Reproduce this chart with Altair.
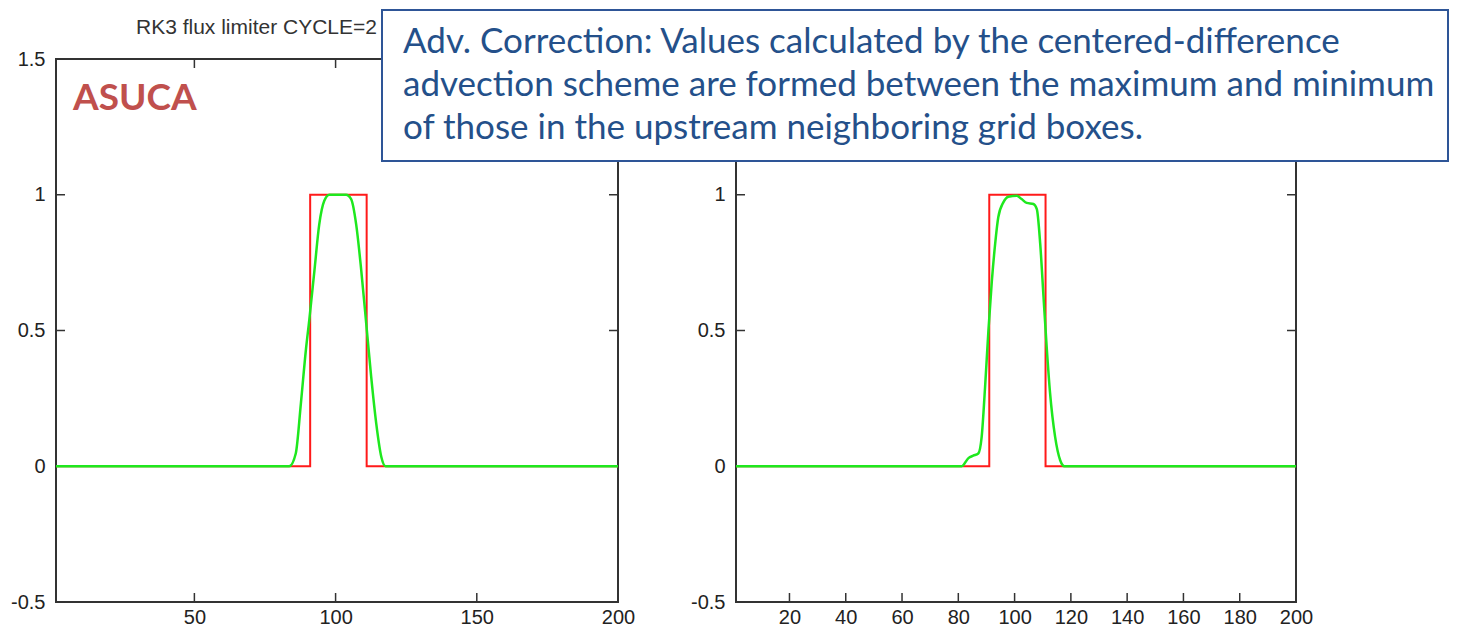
import altair as alt
import pandas as pd

# ---------------- data ----------------
red_x = [1, 91, 91, 111, 111, 200]
red_y = [0, 0, 1, 1, 0, 0]

left_green_x = [1, 83.6, 85.9, 87.7, 89.5, 90.7, 92.5, 94.2, 96.0, 97.8, 100.5, 103.7,
                105.5, 107.3, 109.1, 110.9, 112.6, 114.4, 116.2, 117.7, 200]
left_green_y = [0, 0, 0.047, 0.23, 0.43, 0.54, 0.72, 0.89, 0.978, 1.0, 1.0, 1.0,
                0.984, 0.89, 0.72, 0.52, 0.33, 0.157, 0.034, 0, 0]

right_green_x = [1, 81.2, 83.6, 85.3, 87.1, 88.3, 89.5, 90.7, 91.9, 93.1, 94.2, 96.0,
                 97.8, 100.8, 102.5, 104.3, 106.7, 107.9, 109.1, 110.3, 111.4, 112.6,
                 114.4, 116.2, 117.7, 200]
right_green_y = [0, 0, 0.03, 0.039, 0.047, 0.108, 0.29, 0.5, 0.68, 0.82, 0.917, 0.972,
                 0.993, 0.996, 0.984, 0.97, 0.966, 0.947, 0.82, 0.62, 0.44, 0.27,
                 0.108, 0.022, 0, 0]

left_xticks = [50, 100, 150, 200]
right_xticks = [20, 40, 60, 80, 100, 120, 140, 160, 180, 200]
yticks = [-0.5, 0, 0.5, 1, 1.5]
left_ylabels = [-0.5, 0, 0.5, 1, 1.5]
right_ylabels = [-0.5, 0, 0.5, 1]   # 1.5 is hidden under the text box

title_text = "RK3 flux limiter CYCLE=2"
label_text = "ASUCA"
box_lines = [
    "Adv. Correction: Values calculated by the centered-difference",
    "advection scheme are formed between the maximum and minimum",
    "of those in the upstream neighboring grid boxes.",
]

# ---------------- styling ----------------
FRAME = "#333333"
TICK_FONT = "Liberation Sans"
TICK_LEN = 9
H = 543

red_df = pd.DataFrame({"x": red_x, "y": red_y, "i": range(len(red_x))})
ytick_df = pd.DataFrame({"v": yticks})


def panel(gx, gy, xticks, ylabels, W):
    xs = alt.Scale(domain=[1, 200], nice=False, zero=False)
    ys = alt.Scale(domain=[-0.5, 1.5], nice=False, zero=False)
    xaxis = alt.Axis(values=xticks, title=None, grid=False, domain=False, ticks=False,
                     tickSize=0, labelPadding=5, labelFont=TICK_FONT, labelFontSize=20,
                     labelColor="#222222", labelFlush=False,
                     labelExpr="toString(datum.value)")
    yaxis = alt.Axis(values=ylabels, title=None, grid=False, domain=False, ticks=False,
                     tickSize=0, labelPadding=11, labelFont=TICK_FONT, labelFontSize=20,
                     labelColor="#222222", labelFlush=False,
                     labelExpr="toString(datum.value)")
    gdf = pd.DataFrame({"x": gx, "y": gy, "i": range(len(gx))})
    xtick_df = pd.DataFrame({"v": xticks})

    red = alt.Chart(red_df).mark_line(color="#ff1a1a", strokeWidth=2).encode(
        x=alt.X("x:Q", scale=xs, axis=xaxis),
        y=alt.Y("y:Q", scale=ys, axis=yaxis),
        order="i:Q",
    )
    green = alt.Chart(gdf).mark_line(color="#1ee81e", strokeWidth=2.5,
                                     interpolate="monotone").encode(
        x=alt.X("x:Q", scale=xs), y=alt.Y("y:Q", scale=ys), order="i:Q"
    )
    tb = alt.Chart(xtick_df).mark_rule(color=FRAME, strokeWidth=1.5).encode(
        x=alt.X("v:Q", scale=xs), y=alt.value(H), y2=alt.value(H - TICK_LEN))
    tt = alt.Chart(xtick_df).mark_rule(color=FRAME, strokeWidth=1.5).encode(
        x=alt.X("v:Q", scale=xs), y=alt.value(0), y2=alt.value(TICK_LEN))
    tl = alt.Chart(ytick_df).mark_rule(color=FRAME, strokeWidth=1.5).encode(
        y=alt.Y("v:Q", scale=ys), x=alt.value(0), x2=alt.value(TICK_LEN))
    tr = alt.Chart(ytick_df).mark_rule(color=FRAME, strokeWidth=1.5).encode(
        y=alt.Y("v:Q", scale=ys), x=alt.value(W), x2=alt.value(W - TICK_LEN))
    return [tb, tt, tl, tr, red, green]


one = pd.DataFrame({"a": [0]})

left_layers = panel(left_green_x, left_green_y, left_xticks, left_ylabels, 562)
title = alt.Chart(one).mark_text(text=title_text, font=TICK_FONT, fontSize=21,
                                 color="#333333", align="left",
                                 baseline="alphabetic").encode(
    x=alt.value(80), y=alt.value(-25))
asuca = alt.Chart(one).mark_text(text=label_text, font="Lato", fontSize=37,
                                 fontWeight="bold", color="#C0504D", align="left",
                                 baseline="alphabetic").encode(
    x=alt.value(17), y=alt.value(51))
left = alt.layer(*left_layers, title, asuca).properties(width=562, height=H)

right_layers = panel(right_green_x, right_green_y, right_xticks, right_ylabels, 560)
box = alt.Chart(one).mark_rect(fill="white", stroke="#2E5597", strokeWidth=2).encode(
    x=alt.value(-354), x2=alt.value(712), y=alt.value(-49), y2=alt.value(102))
texts = []
for k, t in enumerate(box_lines):
    texts.append(alt.Chart(one).mark_text(text=t, font="Lato", fontSize=35,
                                          color="#24508A", align="left",
                                          baseline="alphabetic").encode(
        x=alt.value(-333), y=alt.value(-6 + 43 * k)))
right = alt.layer(*right_layers, box, *texts).properties(width=560, height=H)

chart = alt.hconcat(left, right, spacing=118, bounds="flush").properties(
    padding={"left": 1, "top": 0, "right": 0, "bottom": 0}
).configure_view(stroke=FRAME, strokeWidth=2)

chart.save("out.html", embed_options={"renderer": "svg", "actions": False})
